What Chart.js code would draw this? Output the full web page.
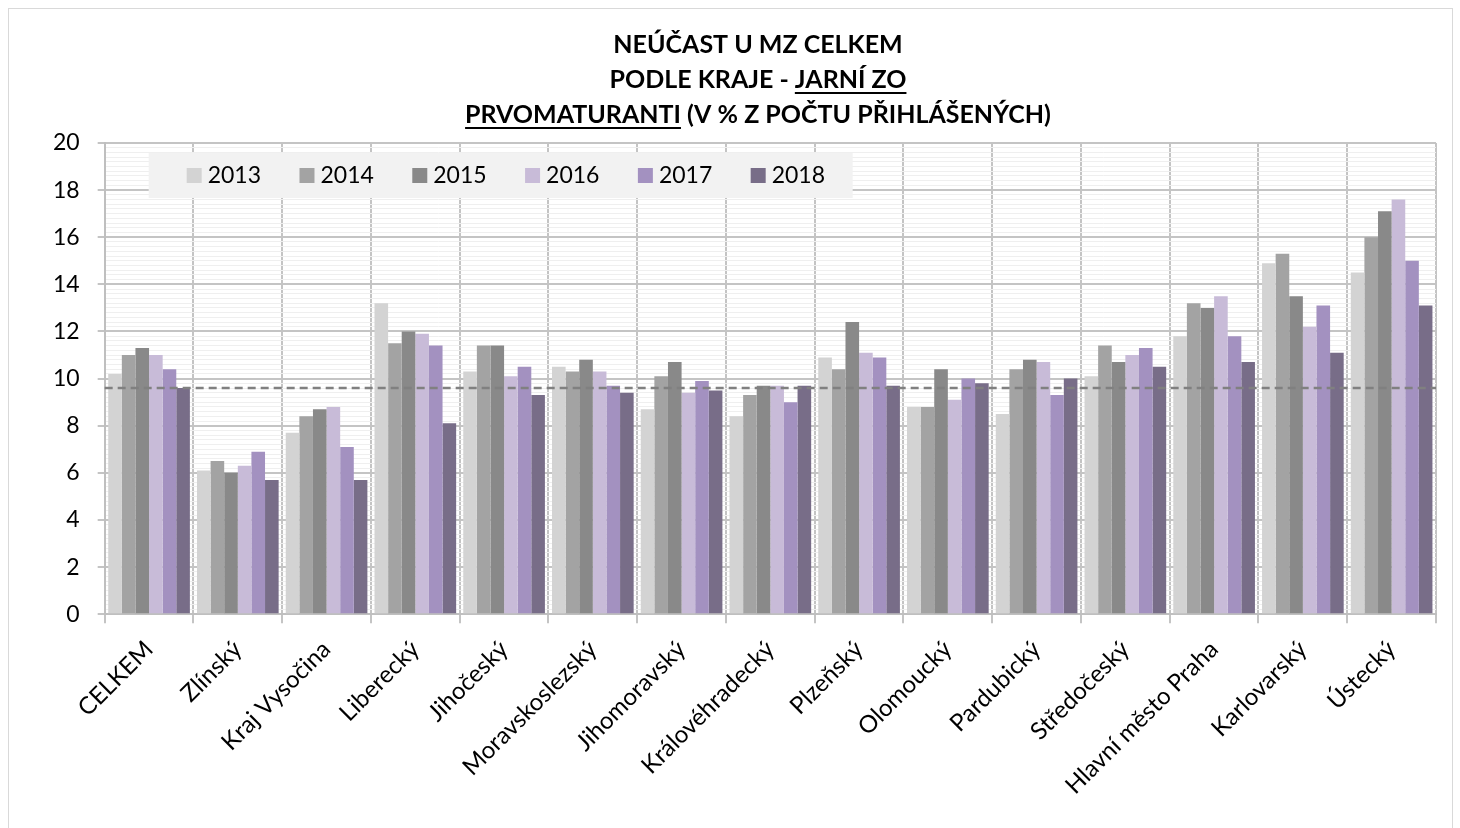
<!DOCTYPE html>
<html lang="cs">
<head>
<meta charset="UTF-8">
<title>Neúčast u MZ celkem</title>
<script src="https://cdn.jsdelivr.net/npm/chart.js"></script>
<style>
  html, body { margin: 0; padding: 0; background: #fff; }
  .wrap { position: relative; width: 1460px; height: 828px; }
</style>
</head>
<body>
<div class="wrap"><canvas id="chart"></canvas></div>
<script>
// kategorie a hodnoty (v % z poctu prihlasenych)
const kraje = ['CELKEM', 'Zlínský', 'Kraj Vysočina', 'Liberecký', 'Jihočeský', 'Moravskoslezský', 'Jihomoravský',
  'Královéhradecký', 'Plzeňský', 'Olomoucký', 'Pardubický', 'Středočeský', 'Hlavní město Praha', 'Karlovarský', 'Ústecký'];
const roky = ['2013', '2014', '2015', '2016', '2017', '2018'];
const r2013 = [10.2, 6.1, 7.7, 13.2, 10.3, 10.5, 8.7, 8.4, 10.9, 8.8, 8.5, 10.1, 11.8, 14.9, 14.5];
const r2014 = [11.0, 6.5, 8.4, 11.5, 11.4, 10.3, 10.1, 9.3, 10.4, 8.8, 10.4, 11.4, 13.2, 15.3, 16.0];
const r2015 = [11.3, 6.0, 8.7, 12.0, 11.4, 10.8, 10.7, 9.7, 12.4, 10.4, 10.8, 10.7, 13.0, 13.5, 17.1];
const r2016 = [11.0, 6.3, 8.8, 11.9, 10.1, 10.3, 9.4, 9.7, 11.1, 9.1, 10.7, 11.0, 13.5, 12.2, 17.6];
const r2017 = [10.4, 6.9, 7.1, 11.4, 10.5, 9.7, 9.9, 9.0, 10.9, 10.0, 9.3, 11.3, 11.8, 13.1, 15.0];
const r2018 = [9.6, 5.7, 5.7, 8.1, 9.3, 9.4, 9.5, 9.7, 9.7, 9.8, 10.0, 10.5, 10.7, 11.1, 13.1];
const prumer = 9.6;   // prerusovana cara = CELKEM 2018
const yPopisky = [0, 2, 4, 6, 8, 10, 12, 14, 16, 18, 20];

const barvy = ['#d3d3d3', '#a3a3a3', '#898989', '#c8bbd8', '#a391c0', '#786d88'];
const rady = [r2013, r2014, r2015, r2016, r2017, r2018];

const titulek = [
  [{ t: 'NEÚČAST U MZ CELKEM' }],
  [{ t: 'PODLE KRAJE - ' }, { t: 'JARNÍ ZO', u: true }],
  [{ t: 'PRVOMATURANTI', u: true }, { t: ' (V % Z POČTU PŘIHLÁŠENÝCH)' }]
];

const isMajor = v => yPopisky.some(p => Math.abs(p - v) < 1e-6);

// ramecek, titulek, prumerna cara a legenda se kresli rucne
const kresleni = {
  id: 'kresleni',
  beforeDraw(chart) {
    const ctx = chart.ctx;
    ctx.save();
    ctx.strokeStyle = '#d9d9d9';
    ctx.lineWidth = 1;
    ctx.strokeRect(8.5, 8.5, 1444, 840);
    ctx.restore();
  },
  afterDatasetsDraw(chart) {
    const ctx = chart.ctx;
    const a = chart.chartArea;
    const y = chart.scales.y.getPixelForValue(prumer);
    ctx.save();
    ctx.strokeStyle = '#808080';
    ctx.lineWidth = 2.5;
    ctx.setLineDash([8, 5]);
    ctx.beginPath();
    ctx.moveTo(a.left, y);
    ctx.lineTo(a.right, y);
    ctx.stroke();
    ctx.restore();
  },
  afterDraw(chart) {
    const ctx = chart.ctx;
    ctx.save();
    // titulek
    ctx.font = 'bold 25px Lato';
    ctx.fillStyle = '#000';
    ctx.textBaseline = 'alphabetic';
    ctx.textAlign = 'left';
    const cx = 758;
    titulek.forEach((radek, i) => {
      const y = 53 + i * 35;
      const w = radek.reduce((s, seg) => s + ctx.measureText(seg.t).width, 0);
      let x = cx - w / 2;
      radek.forEach(seg => {
        const sw = ctx.measureText(seg.t).width;
        ctx.fillText(seg.t, x, y);
        if (seg.u) {
          ctx.fillRect(x, y + 4, sw, 2);
        }
        x += sw;
      });
    });
    // legenda
    const a = chart.chartArea;
    const lx = a.left + 44, ly = a.top + 10;
    ctx.fillStyle = '#f2f2f2';
    ctx.fillRect(lx, ly, 704, 45);
    ctx.font = '23px Lato';
    ctx.textBaseline = 'middle';
    chart.data.datasets.forEach((ds, i) => {
      const x = lx + 38 + i * 112.8;
      ctx.fillStyle = ds.backgroundColor;
      ctx.fillRect(x, ly + 15, 15, 15);
      ctx.fillStyle = '#000';
      ctx.fillText(ds.label, x + 21, ly + 23);
    });
    ctx.restore();
  }
};

const datasets = roky.map((rok, i) => ({
  label: rok,
  data: rady[i],
  backgroundColor: barvy[i],
  borderWidth: 0,
  categoryPercentage: 0.92,
  barPercentage: 1.0
}));

new Chart(document.getElementById('chart'), {
  type: 'bar',
  data: { labels: kraje, datasets },
  options: {
    responsive: true,
    maintainAspectRatio: false,
    animation: false,
    layout: { padding: { top: 143, left: 35, right: 24, bottom: 16 } },
    plugins: {
      legend: { display: false },
      title: { display: false },
      tooltip: { enabled: false }
    },
    scales: {
      x: {
        grid: { color: '#c4c4c4', lineWidth: 2, tickLength: 9, tickColor: '#c4c4c4', offset: true },
        border: { color: '#bfbfbf', width: 2 },
        ticks: {
          color: '#000',
          padding: 12,
          font: { family: 'Lato', size: 24 },
          minRotation: 45,
          maxRotation: 45,
          autoSkip: false
        }
      },
      y: {
        min: 0,
        max: 20,
        grid: {
          color: c => isMajor(c.tick.value) ? '#c4c4c4' : '#efefef',
          lineWidth: c => isMajor(c.tick.value) ? 2 : 1,
          tickColor: c => isMajor(c.tick.value) ? '#c4c4c4' : 'rgba(0,0,0,0)',
          tickLength: 7
        },
        border: { color: '#bfbfbf', width: 2 },
        ticks: {
          stepSize: 0.2,
          autoSkip: false,
          color: '#000',
          padding: 18,
          font: { family: 'Lato', size: 23 },
          callback: v => isMajor(v) ? String(Math.round(v)) : ''
        }
      }
    }
  },
  plugins: [kresleni]
});
</script>
</body>
</html>
